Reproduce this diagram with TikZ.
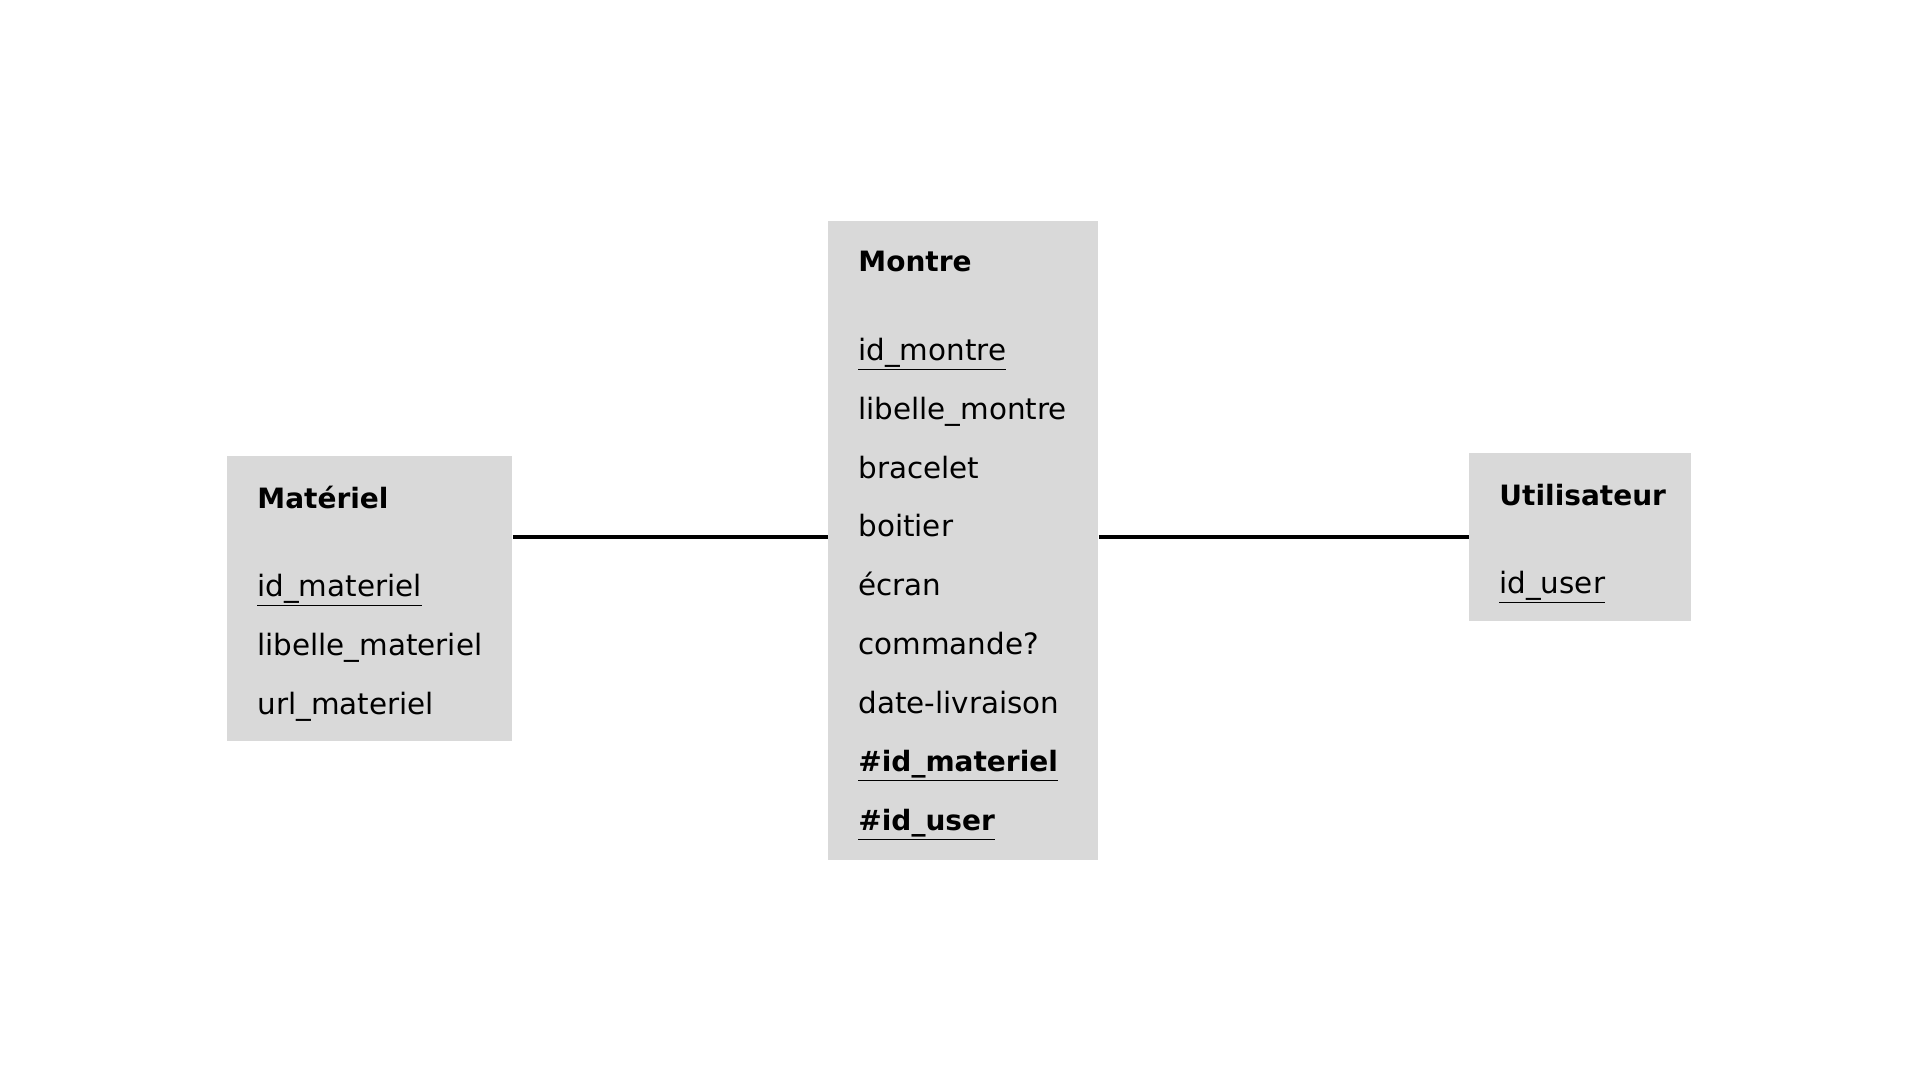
\documentclass[tikz,border=0pt]{standalone}
\usepackage{fontspec}
\setmainfont{DejaVu Sans}
\definecolor{boxgray}{HTML}{D9D9D9}
\begin{document}
\begin{tikzpicture}[x=0.5pt,y=-0.5pt,
  entity/.style={fill=boxgray,anchor=north west,inner sep=0pt},
  attr/.style={anchor=base west,inner sep=0pt,font=\fontsize{14.7}{17}\selectfont},
  title/.style={attr,font=\fontsize{14}{17}\selectfont\bfseries},
  link/.style={line width=2pt}]
  \useasboundingbox (0,0) rectangle (1920,1080);
  % entities
  \node[entity,minimum width=142.75pt,minimum height=142.75pt] (mat) at (226.5,455.5) {};
  \node[entity,minimum width=135pt,minimum height=319.6pt] (montre) at (828,220.4) {};
  \node[entity,minimum width=111pt,minimum height=84pt] (util) at (1469,453) {};
  % Materiel
  \node[title] (mat-t) at (257,508) {Matériel};
  \node[attr] (mat-1) at (257,596) {\underline{id\_materiel}};
  \node[attr] (mat-2) at (257,655) {libelle\_materiel};
  \node[attr] (mat-3) at (257,714) {url\_materiel};
  % Montre
  \node[title] (mon-t) at (858,272) {Montre};
  \node[attr] (mon-1) at (858,360) {\underline{id\_montre}};
  \node[attr] (mon-2) at (858,419) {libelle\_montre};
  \node[attr] (mon-3) at (858,478) {bracelet};
  \node[attr] (mon-4) at (858,536) {boitier};
  \node[attr] (mon-5) at (858,595) {écran};
  \node[attr] (mon-6) at (858,654) {commande?};
  \node[attr] (mon-7) at (858,713) {date-livraison};
  \node[title] (mon-8) at (858,771) {\underline{\#id\_materiel}};
  \node[title] (mon-9) at (858,830) {\underline{\#id\_user}};
  % Utilisateur
  \node[title] (util-t) at (1499,505) {Utilisateur};
  \node[attr] (util-1) at (1499,593) {\underline{id\_user}};
  % associations
  \draw[link] (mat.east |- util.west) -- (montre.west |- util.west);
  \draw[link] (montre.east |- util.west) -- (util.west);
\end{tikzpicture}
\end{document}
